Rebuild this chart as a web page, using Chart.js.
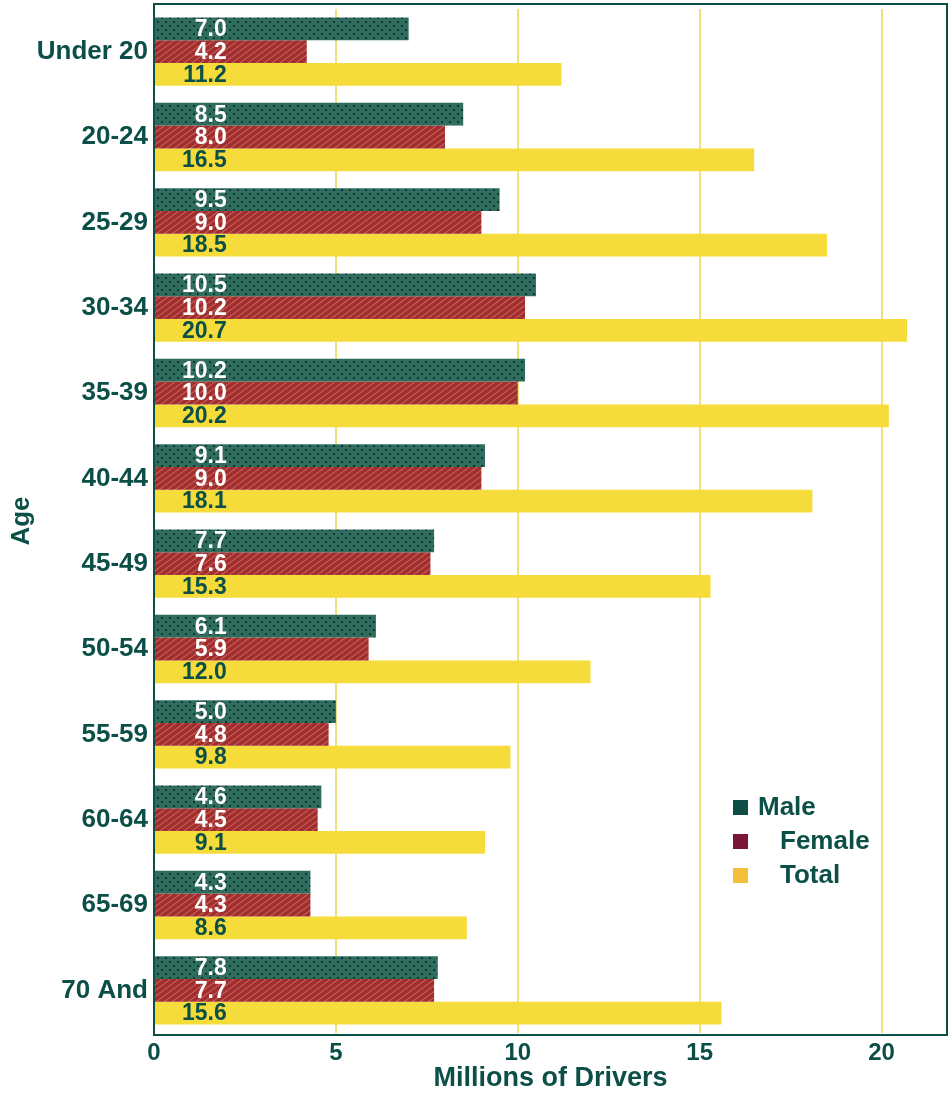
<!DOCTYPE html>
<html>
<head>
<meta charset="utf-8">
<script src="https://cdn.jsdelivr.net/npm/chart.js@4"></script>
<style>
  html, body { margin: 0; padding: 0; background: #fff; }
  #wrap { width: 952px; height: 1095px; }
</style>
</head>
<body>
<div id="wrap"><canvas id="driversChart"></canvas></div>
<script>
const ageGroups = ['Under 20', '20-24', '25-29', '30-34', '35-39', '40-44', '45-49', '50-54', '55-59', '60-64', '65-69', '70 And'];
const male   = [7.0, 8.5, 9.5, 10.5, 10.2, 9.1, 7.7, 6.1, 5.0, 4.6, 4.3, 7.8];
const female = [4.2, 8.0, 9.0, 10.2, 10.0, 9.0, 7.6, 5.9, 4.8, 4.5, 4.3, 7.7];
const total  = [11.2, 16.5, 18.5, 20.7, 20.2, 18.1, 15.3, 12.0, 9.8, 9.1, 8.6, 15.6];
const xTicks = [0, 5, 10, 15, 20];

const teal = '#0b4f47';
const font = "'Liberation Sans', Arial, sans-serif";

// small textures to look like the original fills
function dotPattern() {
    const c = document.createElement('canvas');
    c.width = 8; c.height = 8;
    const g = c.getContext('2d');
    g.fillStyle = '#2f6d5f';
    g.fillRect(0, 0, 8, 8);
    g.fillStyle = '#12352d';
    g.fillRect(1, 1, 2, 2);
    g.fillRect(5, 5, 2, 2);
    return g.createPattern(c, 'repeat');
}
function hatchPattern() {
    const c = document.createElement('canvas');
    c.width = 8; c.height = 6;
    const g = c.getContext('2d');
    g.fillStyle = '#a12e2e';
    g.fillRect(0, 0, 8, 6);
    g.strokeStyle = '#c65e58';
    g.lineWidth = 1.2;
    g.beginPath();
    g.moveTo(0, 3); g.lineTo(4, 0);
    g.moveTo(4, 6); g.lineTo(8, 3);
    g.stroke();
    return g.createPattern(c, 'repeat');
}

const frame = {
    id: 'frame',
    afterDraw(chart) {
        const a = chart.chartArea, ctx = chart.ctx;
        ctx.save();
        ctx.strokeStyle = teal;
        ctx.lineWidth = 2;
        ctx.strokeRect(a.left, a.top - 5, a.right - a.left, a.bottom - a.top + 7);
        ctx.restore();
    }
};

const barText = {
    id: 'barText',
    afterDatasetsDraw(chart) {
        const ctx = chart.ctx;
        const xs = chart.scales.x;
        ctx.save();
        ctx.font = 'bold 23px ' + font;
        ctx.textAlign = 'right';
        ctx.textBaseline = 'middle';
        chart.data.datasets.forEach((ds, i) => {
            chart.getDatasetMeta(i).data.forEach((bar, j) => {
                ctx.fillStyle = i === 2 ? teal : '#ffffff';
                ctx.fillText(ds.data[j].toFixed(1), xs.getPixelForValue(2), bar.y + 1);
            });
        });
        ctx.restore();
    }
};

const legendBox = {
    id: 'legendBox',
    afterDraw(chart) {
        const ctx = chart.ctx;
        const items = [['Male', '#0d4d45', 758], ['Female', '#7a1535', 780], ['Total', '#f4c03a', 780]];
        ctx.save();
        ctx.font = 'bold 26px ' + font;
        ctx.textBaseline = 'middle';
        items.forEach((it, k) => {
            const y = 808 + k * 34;
            ctx.fillStyle = it[1];
            ctx.fillRect(733, y - 8, 15, 15);
            ctx.fillStyle = teal;
            ctx.fillText(it[0], it[2], y);
        });
        ctx.restore();
    }
};

new Chart(document.getElementById('driversChart'), {
    type: 'bar',
    data: {
        labels: ageGroups,
        datasets: [
            { label: 'Male', data: male, backgroundColor: dotPattern() },
            { label: 'Female', data: female, backgroundColor: hatchPattern() },
            { label: 'Total', data: total, backgroundColor: '#f5dc3a' }
        ]
    },
    options: {
        indexAxis: 'y',
        responsive: true,
        maintainAspectRatio: false,
        animation: false,
        layout: { padding: { top: 9, right: 5, left: 0, bottom: 0 } },
        datasets: { bar: { categoryPercentage: 0.8, barPercentage: 1.0 } },
        plugins: {
            legend: { display: false },
            tooltip: { enabled: false }
        },
        scales: {
            x: {
                min: 0,
                max: 21.8,
                afterBuildTicks: s => { s.ticks = xTicks.map(v => ({ value: v })); },
                grid: { color: '#ece37c', lineWidth: 2, drawTicks: false },
                border: { display: false },
                ticks: { color: teal, padding: 6, font: { family: font, size: 24, weight: 'bold' } },
                title: { display: true, text: 'Millions of Drivers', color: teal, padding: 0,
                         font: { family: font, size: 27, weight: 'bold' } },
                afterFit: s => { s.height = 62; s.paddingLeft = 0; s.paddingRight = 0; }
            },
            y: {
                grid: { display: false, drawTicks: false },
                border: { display: false },
                ticks: { color: teal, padding: 6, font: { family: font, size: 26, weight: 'bold' } },
                title: { display: true, text: 'Age', color: teal, padding: { top: 6, bottom: 0 },
                         font: { family: font, size: 26, weight: 'bold' } },
                afterFit: s => { s.width = 154; s.paddingTop = 0; s.paddingBottom = 0; }
            }
        }
    },
    plugins: [frame, barText, legendBox]
});
</script>
</body>
</html>
